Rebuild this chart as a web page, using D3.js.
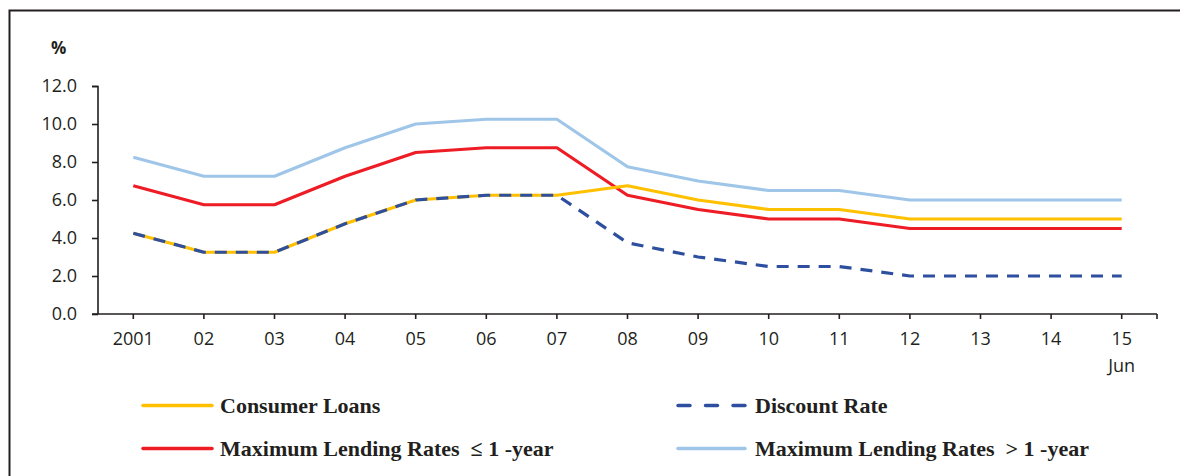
<!DOCTYPE html>
<html>
<head>
<meta charset="utf-8">
<script src="https://cdn.jsdelivr.net/npm/d3@7"></script>
<style>
  html, body { margin: 0; padding: 0; background: #fff; }
  svg { display: block; }
</style>
</head>
<body>
<svg id="chart" width="1180" height="476"></svg>
<script>
// Interest rates, 2001 – June 2015 (%)
const years = ["2001", "02", "03", "04", "05", "06", "07", "08", "09", "10", "11", "12", "13", "14", "15"];
const consumerLoans = [4.25, 3.25, 3.25, 4.75, 6.0, 6.25, 6.25, 6.75, 6.0, 5.5, 5.5, 5.0, 5.0, 5.0, 5.0];
const discountRate  = [4.25, 3.25, 3.25, 4.75, 6.0, 6.25, 6.25, 3.75, 3.0, 2.5, 2.5, 2.0, 2.0, 2.0, 2.0];
const maxLendingShort = [6.75, 5.75, 5.75, 7.25, 8.5, 8.75, 8.75, 6.25, 5.5, 5.0, 5.0, 4.5, 4.5, 4.5, 4.5];
const maxLendingLong  = [8.25, 7.25, 7.25, 8.75, 10.0, 10.25, 10.25, 7.75, 7.0, 6.5, 6.5, 6.0, 6.0, 6.0, 6.0];
const yTicks = [0, 2, 4, 6, 8, 10, 12];

const svg = d3.select("#chart");
const tickFont = "'Open Sans', 'Liberation Sans', sans-serif";
const legendFont = "'Liberation Serif', 'Times New Roman', serif";
const ink = "#231f20";

// Frame (top and left edges)
svg.append("path")
  .attr("d", "M9.5,476 L9.5,10.5 L1180,10.5")
  .attr("fill", "none").attr("stroke", ink).attr("stroke-width", 2);

const x = d3.scaleBand().domain(years).range([98, 1157]);
const y = d3.scaleLinear().domain([0, 12]).range([314, 86]);
const cx = d => x(d) + x.bandwidth() / 2;

// Y axis
const yAxis = svg.append("g").attr("transform", "translate(98,0)")
  .call(d3.axisLeft(y).tickValues(yTicks).tickFormat(d3.format(".1f")).tickSize(6).tickPadding(15));
yAxis.select(".domain").attr("stroke", ink).attr("stroke-width", 1.6).attr("d", "M-6,86.5H0V314");
yAxis.selectAll(".tick line").attr("stroke", ink).attr("stroke-width", 1.6);
yAxis.selectAll("text").attr("font-family", tickFont).attr("font-size", 18).attr("fill", ink);

// X axis: ticks at category centres plus the right end
const xAxisG = svg.append("g").attr("transform", "translate(0,314)");
xAxisG.append("line").attr("x1", 92).attr("x2", 1157).attr("y1", 0).attr("y2", 0)
  .attr("stroke", ink).attr("stroke-width", 1.6);
const tickPositions = years.map(cx).concat([1157]);
xAxisG.selectAll("line.tk").data(tickPositions).join("line").attr("class", "tk")
  .attr("x1", d => d).attr("x2", d => d).attr("y1", 0).attr("y2", 5)
  .attr("stroke", ink).attr("stroke-width", 1.6);
xAxisG.selectAll("text.lab").data(years).join("text").attr("class", "lab")
  .attr("x", d => cx(d)).attr("y", 31)
  .attr("text-anchor", "middle")
  .attr("font-family", tickFont).attr("font-size", 18).attr("fill", ink)
  .text(d => d);
xAxisG.append("text")
  .attr("x", cx("15")).attr("y", 58)
  .attr("text-anchor", "middle")
  .attr("font-family", tickFont).attr("font-size", 18).attr("fill", ink)
  .text("Jun");

// Unit label
svg.append("text").attr("x", 51).attr("y", 54)
  .attr("font-family", tickFont).attr("font-size", 17).attr("font-weight", "bold").attr("fill", ink)
  .text("%");

// Series
const series = [
  { name: "Maximum Lending Rates  > 1 -year", values: maxLendingLong, color: "#9fc6e8", dash: null },
  { name: "Maximum Lending Rates  \u2264 1 -year", values: maxLendingShort, color: "#ee1c25", dash: null },
  { name: "Consumer Loans", values: consumerLoans, color: "#ffc000", dash: null },
  { name: "Discount Rate", values: discountRate, color: "#2e4fa0", dash: "12,9" }
];

const line = d3.line().x((d, i) => cx(years[i])).y(d => y(d));

svg.append("g").selectAll("path").data(series).join("path")
  .attr("d", d => line(d.values))
  .attr("fill", "none")
  .attr("stroke", d => d.color)
  .attr("stroke-width", 3.2)
  .attr("stroke-dasharray", d => d.dash)
  .attr("stroke-linejoin", "round");

// Legend
const legendItems = [
  { s: series[2], x1: 143, x2: 212, tx: 220, ly: 405.5 },
  { s: series[3], x1: 678, x2: 745, tx: 755, ly: 405.5 },
  { s: series[1], x1: 143, x2: 212, tx: 220, ly: 448.5 },
  { s: series[0], x1: 678, x2: 745, tx: 755, ly: 448.5 }
];
const lg = svg.append("g").selectAll("g").data(legendItems).join("g");
lg.append("line")
  .attr("x1", d => d.x1).attr("x2", d => d.x2)
  .attr("y1", d => d.ly).attr("y2", d => d.ly)
  .attr("stroke", d => d.s.color).attr("stroke-width", 3.5)
  .attr("stroke-linecap", "round")
  .attr("stroke-dasharray", d => d.s.dash ? "12,15.5" : null);
lg.append("text")
  .attr("x", d => d.tx).attr("y", d => d.ly + 7.5)
  .attr("font-family", legendFont).attr("font-size", 22).attr("font-weight", "bold").attr("fill", ink)
  .style("white-space", "pre")
  .text(d => d.s.name);
</script>
</body>
</html>
